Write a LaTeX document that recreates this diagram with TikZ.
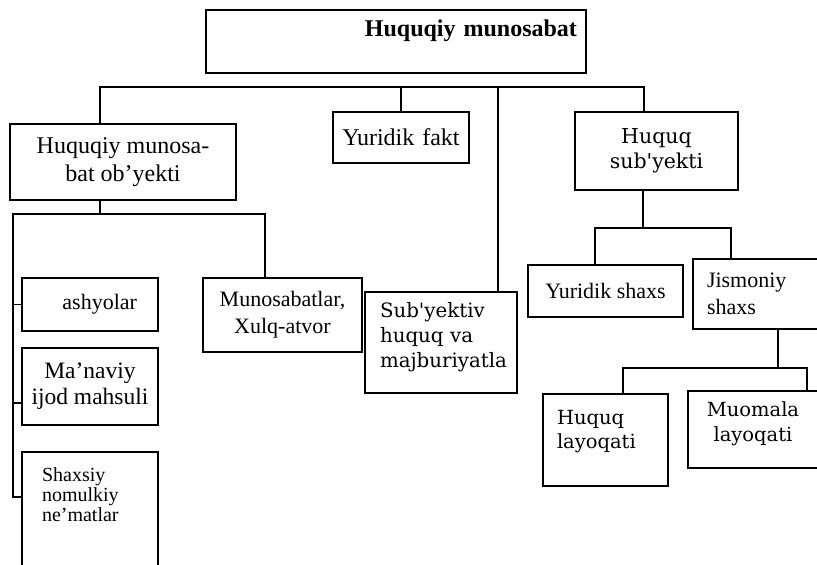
\documentclass[tikz,border=0pt]{standalone}
\usepackage{fontspec}
\setmainfont{Liberation Serif}
\newfontfamily\wideserif{DejaVu Serif}

\begin{document}
\begin{tikzpicture}[
    x=1pt,y=-1pt,
    line width=1.8pt,
    b/.style={draw=black,rectangle,inner sep=0pt,align=center,font=\fontsize{22}{27}\selectfont},
    bb/.style={b,font=\fontsize{24}{27}\selectfont},
    w/.style={b,font=\wideserif\fontsize{19.5}{24.5}\selectfont},
]
    \useasboundingbox (0,0) rectangle (817,565);
    \clip (0,0) rectangle (817,565);

    \node[b,minimum width=380,minimum height=63,text width=362,align=right,
        font=\bfseries\fontsize{24}{27}\selectfont,text depth=27pt] (top) at (396,41.5) {Huquqiy munosabat};

    \node[bb,minimum width=226,minimum height=76,font=\fontsize{24}{28}\selectfont] (obj) at (123,162) {Huquqiy munosa-\\bat ob'yekti};
    \node[bb,minimum width=136,minimum height=51,text width=124] (fakt) at (401,137.5) {Yuridik fakt};
    \node[w,minimum width=163,minimum height=78,font=\wideserif\fontsize{20.5}{25}\selectfont] (subj) at (656.5,151) {Huquq\\sub'yekti};
    \node[w,minimum width=152,minimum height=101,text width=122,align=left,
        font=\wideserif\fontsize{19.8}{25}\selectfont,text depth=65pt] (subv) at (441,342.5) {Sub'yektiv\\huquq va\\majburiyatla};

    \node[b,minimum width=136,minimum height=53,text width=94,align=right] (ash) at (90,304.5) {ashyolar};
    \node[bb,minimum width=136,minimum height=77,font=\fontsize{23.5}{26}\selectfont] (man) at (90,386.5) {Ma'naviy\\ijod mahsuli};
    \node[b,minimum width=136,minimum height=128,text width=96,align=left,
        font=\fontsize{20}{20}\selectfont,text depth=82pt] (shx) at (90,516) {Shaxsiy\\nomulkiy\\ne'matlar};
    \node[b,minimum width=159,minimum height=74] (mun) at (282.5,315) {Munosabatlar,\\Xulq-atvor};

    \node[b,minimum width=155,minimum height=52] (ysh) at (605.5,291) {Yuridik shaxs};
    \node[b,minimum width=125,minimum height=70,text width=97,align=left] (jsh) at (755.5,294) {Jismoniy\\shaxs};
    \node[w,minimum width=125,minimum height=92,text width=97,align=left,text depth=46pt] (hlay) at (605.5,440) {Huquq\\layoqati};
    \node[w,minimum width=130,minimum height=77,text depth=16pt] (mlay) at (753,429.5) {Muomala\\layoqati};

    \coordinate (busL) at (100,87);
    \coordinate (busM) at (498,87);
    \coordinate (busR) at (644,87);
    \coordinate (spine) at (13,214);
    \coordinate (spineB) at (13,497);
    \coordinate (j1) at (643,228);
    \coordinate (j2) at (778,368);

    \draw (obj.north -| busL) -- (busL) -- (busR) -- (subj.north -| busR);
    \draw (fakt.north) -- (fakt.north |- busL);
    \draw (busM) -- (subv.north -| busM);

    \draw (obj.south -| busL) |- (spine) -- (spineB) -- (shx.west |- spineB);
    \draw (spine) -| ([xshift=-17.5pt]mun.north);
    \draw (spine |- ash.west) -- (ash.west);
    \draw ([yshift=-16.5pt]man.west -| spine) -- ([yshift=-16.5pt]man.west);

    \draw ([xshift=-13.5pt]subj.south) -- (j1);
    \draw ([xshift=-10.5pt]ysh.north) |- (j1) -| ([xshift=-24.5pt]jsh.north);

    \draw ([xshift=22.5pt]jsh.south) -- (j2);
    \draw ([xshift=17.5pt]hlay.north) |- (j2) -| ([xshift=54pt]mlay.north);
\end{tikzpicture}
\end{document}
